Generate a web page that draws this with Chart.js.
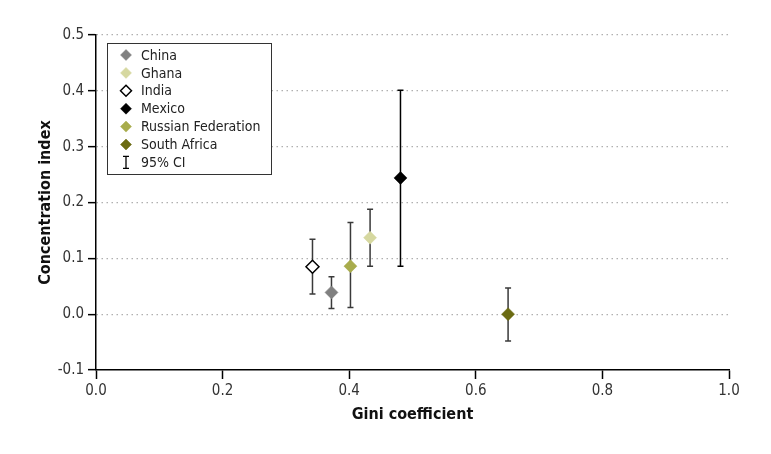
<!DOCTYPE html>
<html>
<head>
<meta charset="utf-8">
<script src="https://cdn.jsdelivr.net/npm/chart.js@4/dist/chart.umd.min.js"></script>
<style>
  html, body { margin: 0; padding: 0; background: #fff; }
  #wrap { width: 771px; height: 454px; }
</style>
</head>
<body>
<div id="wrap"><canvas id="chart" width="771" height="454"></canvas></div>
<script>
// values
const countries = ['China', 'Ghana', 'India', 'Mexico', 'Russian Federation', 'South Africa'];
const gini = [0.372, 0.433, 0.342, 0.481, 0.402, 0.651];
const concIndex = [0.039, 0.137, 0.085, 0.244, 0.086, 0.000];
const ciLow = [0.010, 0.086, 0.036, 0.086, 0.012, -0.048];
const ciHigh = [0.067, 0.188, 0.134, 0.401, 0.164, 0.047];
const xTicks = [0, 0.2, 0.4, 0.6, 0.8, 1.0];
const yTicks = [-0.1, 0, 0.1, 0.2, 0.3, 0.4, 0.5];

const fills = ['#808080', '#d6d8a0', '#ffffff', '#000000', '#a8ac4c', '#6b6b12'];
const strokes = ['#808080', '#d6d8a0', '#000000', '#000000', '#a8ac4c', '#6b6b12'];

const FONT = '"DejaVu Sans Condensed", "Liberation Sans Narrow", sans-serif';

const datasets = countries.map((name, i) => ({
    label: name,
    data: [{ x: gini[i], y: concIndex[i], lo: ciLow[i], hi: ciHigh[i] }],
    pointStyle: 'rectRot',
    pointRadius: 6.5,
    pointHoverRadius: 6.5,
    backgroundColor: fills[i],
    borderColor: strokes[i],
    borderWidth: i === 2 ? 1.5 : 0.5
}));

// 95% CI whiskers, drawn through the scales
const errorBars = {
    id: 'errorBars',
    beforeDatasetsDraw(chart) {
        const ctx = chart.ctx;
        const xs = chart.scales.x, ys = chart.scales.y;
        ctx.save();
        chart.data.datasets.forEach((ds, i) => {
            ds.data.forEach(p => {
                const px = xs.getPixelForValue(p.x);
                const top = ys.getPixelForValue(p.hi);
                const bot = ys.getPixelForValue(p.lo);
                ctx.strokeStyle = i === 3 ? '#000' : '#3a3a3a';
                ctx.lineWidth = 1.5;
                ctx.beginPath();
                ctx.moveTo(px, top); ctx.lineTo(px, bot);
                ctx.moveTo(px - 3, top); ctx.lineTo(px + 3, top);
                ctx.moveTo(px - 3, bot); ctx.lineTo(px + 3, bot);
                ctx.stroke();
            });
        });
        ctx.restore();
    }
};

// boxed legend in the top left of the plot
const boxLegend = {
    id: 'boxLegend',
    afterDraw(chart) {
        const ctx = chart.ctx;
        const left = 107.5, top = 43.5, w = 164, h = 131;
        ctx.save();
        ctx.fillStyle = '#fff';
        ctx.fillRect(left, top, w, h);
        ctx.strokeStyle = '#333';
        ctx.lineWidth = 1;
        ctx.strokeRect(left, top, w, h);
        ctx.font = '14px ' + FONT;
        ctx.textBaseline = 'middle';
        const rowH = 17.9;
        const labels = countries.concat(['95% CI']);
        labels.forEach((txt, i) => {
            const cy = 55 + i * rowH;
            const cx = 126;
            if (i < countries.length) {
                const r = 5.5;
                ctx.beginPath();
                ctx.moveTo(cx, cy - r); ctx.lineTo(cx + r, cy);
                ctx.lineTo(cx, cy + r); ctx.lineTo(cx - r, cy);
                ctx.closePath();
                ctx.fillStyle = fills[i];
                ctx.fill();
                ctx.strokeStyle = strokes[i];
                ctx.lineWidth = i === 2 ? 1.5 : 0.5;
                ctx.stroke();
            } else {
                ctx.strokeStyle = '#000';
                ctx.lineWidth = 1.3;
                ctx.beginPath();
                ctx.moveTo(cx, cy - 6); ctx.lineTo(cx, cy + 6);
                ctx.moveTo(cx - 3, cy - 6); ctx.lineTo(cx + 3, cy - 6);
                ctx.moveTo(cx - 3, cy + 6); ctx.lineTo(cx + 3, cy + 6);
                ctx.stroke();
            }
            ctx.fillStyle = '#222';
            ctx.textAlign = 'left';
            ctx.fillText(txt, 141, cy + 1);
        });
        ctx.restore();
    }
};

new Chart(document.getElementById('chart').getContext('2d'), {
    type: 'scatter',
    data: { datasets },
    options: {
        responsive: false,
        animation: false,
        events: [],
        layout: { padding: { top: 35, right: 42, left: 36, bottom: 30 } },
        plugins: {
            legend: { display: false },
            tooltip: { enabled: false }
        },
        scales: {
            x: {
                type: 'linear',
                min: 0,
                max: 1,
                afterBuildTicks: s => { s.ticks = xTicks.map(v => ({ value: v })); },
                afterFit: s => { s.height = 54; },
                border: { display: true, color: '#000', width: 1.5 },
                grid: { drawOnChartArea: false, drawTicks: true, tickLength: 9, tickColor: '#000', tickWidth: 1.5 },
                ticks: {
                    color: '#333',
                    padding: 3,
                    font: { family: FONT, size: 15 },
                    callback: v => v.toFixed(1)
                },
                title: {
                    display: true,
                    text: 'Gini coefficient',
                    color: '#111',
                    padding: { top: 0, bottom: 0 },
                    font: { family: FONT, size: 16, weight: 'bold' }
                }
            },
            y: {
                type: 'linear',
                min: -0.1,
                max: 0.5,
                afterBuildTicks: s => { s.ticks = yTicks.map(v => ({ value: v })); },
                afterFit: s => { s.width = 60; },
                border: { display: true, color: '#000', width: 1.5, dash: [1.5, 3.5] },
                grid: {
                    color: ctx => (ctx.tick && ctx.tick.value <= -0.09) ? 'rgba(0,0,0,0)' : '#b0b0b0',
                    lineWidth: 1.3,
                    drawTicks: true,
                    tickLength: 8,
                    tickColor: '#000',
                    tickWidth: 1.5,
                    tickBorderDash: []
                },
                ticks: {
                    color: '#333',
                    padding: 4,
                    font: { family: FONT, size: 15 },
                    callback: v => v.toFixed(1)
                },
                title: {
                    display: true,
                    text: 'Concentration index',
                    color: '#111',
                    padding: { top: 0, bottom: 0 },
                    font: { family: FONT, size: 16, weight: 'bold' }
                }
            }
        }
    },
    plugins: [errorBars, boxLegend]
});
</script>
</body>
</html>
